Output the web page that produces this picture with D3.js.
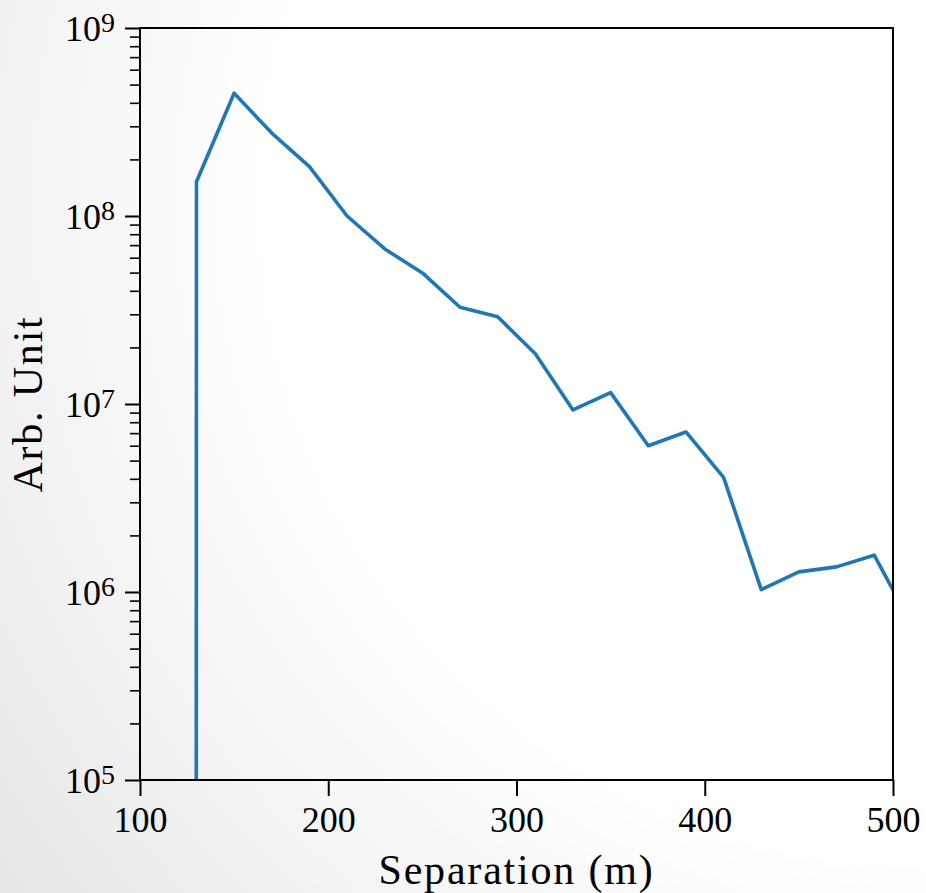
<!doctype html>
<html>
  <head>
    <meta charset="utf-8">
    <title>Separation</title>
    <style type="text/css">
		body{
			margin: 0px;
			background: #ffffff;
		}
		#graph{
			display: block;
		}
		.tick text{
			font-family: "Liberation Serif", serif;
		}
    </style>
    <script src="https://d3js.org/d3.v7.min.js"></script>
  </head>
  <body>
    <svg id="graph" width="926" height="893"></svg>
    <script type="text/javascript">
		// data (x = separation in m, y = arb. unit)
		var separation = [110, 130, 150, 170, 190, 210, 230, 250, 270, 290, 310, 330, 350, 370, 390, 410, 430, 450, 470, 490, 510];
		var counts = [0, 1.52e8, 4.5e8, 2.76e8, 1.83e8, 1.0e8, 6.68e7, 4.98e7, 3.27e7, 2.91e7, 1.85e7, 9.3e6, 1.15e7, 6.0e6, 7.1e6, 4.07e6, 1.03e6, 1.28e6, 1.36e6, 1.57e6, 6.7e5];
		var xTicks = [100, 200, 300, 400, 500];
		var yExponents = [5, 6, 7, 8, 9];

		var graphWidth = 926;
		var graphHeight = 893;
		var margin = {left: 140, top: 28, right: 33, bottom: 113};
		var w = graphWidth - margin.left - margin.right;
		var h = graphHeight - margin.top - margin.bottom;

		var svg = d3.select("#graph");

		// slide-ish background
		var defs = svg.append("defs");
		var grad = defs.append("radialGradient")
			.attr("id", "bg")
			.attr("gradientUnits", "userSpaceOnUse")
			.attr("cx", 926).attr("cy", 200).attr("r", 1200);
		grad.append("stop").attr("offset", 0).attr("stop-color", "#ffffff");
		grad.append("stop").attr("offset", 0.55).attr("stop-color", "#ffffff");
		grad.append("stop").attr("offset", 1).attr("stop-color", "#e4e4e4");
		svg.append("rect")
			.attr("width", graphWidth)
			.attr("height", graphHeight)
			.attr("fill", "url(#bg)");

		defs.append("clipPath").attr("id", "plotclip")
			.append("rect").attr("width", w).attr("height", h);

		var graph = svg.append("g")
			.attr("transform", "translate(" + margin.left + "," + margin.top + ")");

		var scaleX = d3.scaleLinear().domain([100, 500]).range([0, w]);
		var scaleY = d3.scaleLog().domain([1e5, 1e9]).range([h, 0]);

		// minor ticks 2..9 x 10^k
		var minorTicks = [];
		for(var k = 5; k < 9; k++){
			for(var m = 2; m < 10; m++){
				minorTicks.push(m * Math.pow(10, k));
			}
		}

		var axisYMinor = d3.axisLeft(scaleY)
			.tickValues(minorTicks)
			.tickSize(10)
			.tickFormat("");
		var gMinor = graph.append("g").call(axisYMinor);
		gMinor.select(".domain").remove();
		gMinor.selectAll("line").attr("stroke", "#000").attr("stroke-width", 1.6);

		var axisY = d3.axisLeft(scaleY)
			.tickValues(yExponents.map(function(e){ return Math.pow(10, e); }))
			.tickSize(15)
			.tickFormat("");
		var gY = graph.append("g").call(axisY);
		gY.select(".domain").remove();
		gY.selectAll("line").attr("stroke", "#000").attr("stroke-width", 2);

		// 10^n labels with superscripts
		var yLabels = gY.selectAll(".tick").append("text")
			.attr("x", -25)
			.attr("y", 12)
			.attr("fill", "#000")
			.attr("text-anchor", "end")
			.style("font-size", "36px");
		yLabels.append("tspan").text("10");
		yLabels.append("tspan")
			.attr("dy", -9)
			.style("font-size", "28px")
			.text(function(d){ return Math.round(Math.log10(d)); });

		var axisX = d3.axisBottom(scaleX)
			.tickValues(xTicks)
			.tickSize(16)
			.tickPadding(10)
			.tickFormat(d3.format("d"));
		var gX = graph.append("g")
			.attr("transform", "translate(0," + h + ")")
			.call(axisX);
		gX.select(".domain").remove();
		gX.selectAll("line").attr("stroke", "#000").attr("stroke-width", 2);
		gX.selectAll("text")
			.attr("fill", "#000")
			.attr("dy", "0.71em")
			.attr("y", 26)
			.style("font-size", "36px");

		// the curve; zero bin falls off the bottom of the log axis
		var line = d3.line()
			.x(function(d, i) { return scaleX(separation[i]); })
			.y(function(d) { return d > 0 ? scaleY(d) : h + 100000; });

		graph.append("path")
			.attr("clip-path", "url(#plotclip)")
			.attr("d", line(counts))
			.attr("stroke", "#1f77b4")
			.attr("stroke-width", 3.6)
			.attr("stroke-linejoin", "round")
			.attr("fill", "none");

		// frame
		graph.append("rect")
			.attr("width", w)
			.attr("height", h)
			.attr("fill", "none")
			.attr("stroke", "#000")
			.attr("stroke-width", 2);

		svg.append("text")
			.attr("x", margin.left + w / 2)
			.attr("y", 884)
			.attr("text-anchor", "middle")
			.style("font-family", "'Liberation Serif', serif")
			.style("font-size", "42px")
			.style("letter-spacing", "1.8px")
			.text("Separation (m)");

		svg.append("text")
			.attr("transform", "translate(42," + (margin.top + h / 2) + ") rotate(-90)")
			.attr("text-anchor", "middle")
			.style("font-family", "'Liberation Serif', serif")
			.style("font-size", "42px")
			.style("letter-spacing", "1.8px")
			.text("Arb. Unit");
    </script>
  </body>
</html>
